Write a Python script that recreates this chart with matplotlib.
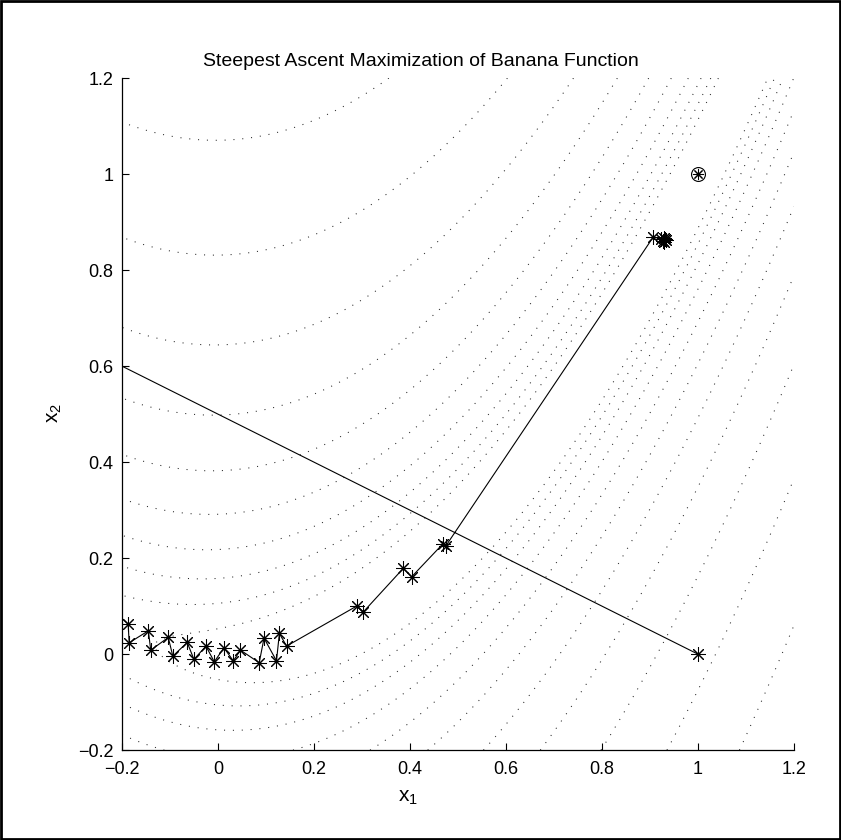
import numpy as np
import matplotlib
matplotlib.use("Agg")
import matplotlib.pyplot as plt
from matplotlib.patches import Rectangle

plt.rcParams['font.family'] = ['Liberation Sans', 'DejaVu Sans']
plt.rcParams['mathtext.fontset'] = 'custom'
plt.rcParams['mathtext.rm'] = 'Liberation Sans'
plt.rcParams['mathtext.it'] = 'Liberation Sans'

# contour levels of the banana function
levels = [-190.6, -115.6, -70.1, -42.5, -25.8, -15.6, -9.49, -5.75, -3.49, -2.12, -1.28]

# steepest ascent iterates (first step leaves the plot)
path_x1 = [1.0, -1.5, -0.187, -0.185, -0.145, -0.140, -0.1035, -0.094, -0.064, -0.050,
           -0.025, -0.0076, 0.0125, 0.032, 0.047, 0.086, 0.096, 0.122, 0.128, 0.143,
           0.289, 0.303, 0.386, 0.4035, 0.468, 0.475, 0.907,
           0.924, 0.927, 0.931, 0.929, 0.933, 0.930]
path_x2 = [0.0, 1.25, 0.0625, 0.0236, 0.0486, 0.0083, 0.0347, -0.0042, 0.0243, -0.011,
           0.0167, -0.016, 0.0132, -0.014, 0.0083, -0.018, 0.0333, -0.014, 0.043, 0.0167,
           0.100, 0.088, 0.1785, 0.161, 0.229, 0.2257, 0.869,
           0.865, 0.861, 0.864, 0.859, 0.862, 0.866]

opt_x1 = [1.0]
opt_x2 = [1.0]

x_ticks = [-0.2, 0, 0.2, 0.4, 0.6, 0.8, 1, 1.2]
x_ticklabels = ['\u22120.2', '0', '0.2', '0.4', '0.6', '0.8', '1', '1.2']
y_ticks = [-0.2, 0, 0.2, 0.4, 0.6, 0.8, 1, 1.2]
y_ticklabels = ['\u22120.2', '0', '0.2', '0.4', '0.6', '0.8', '1', '1.2']

fig = plt.figure(figsize=(8.41, 8.40), dpi=100)
ax = fig.add_axes([0.145, 0.107, 0.799, 0.800])

g1 = np.linspace(-0.2, 1.2, 300)
g2 = np.linspace(-0.2, 1.2, 300)
X1, X2 = np.meshgrid(g1, g2)
Z = -100 * (X2 - X1**2)**2 - (1 - X1)**2

ax.contour(X1, X2, Z, levels=levels, colors='0.15', linewidths=0.75,
           linestyles=[(0, (1, 7.5))], zorder=1)

star = (8, 2, 0)
ax.plot(path_x1, path_x2, color='k', lw=0.8, marker=star, ms=10.5, mew=0.75,
        mfc='none', mec='k', zorder=3)
ax.plot(opt_x1, opt_x2, linestyle='none', marker='o', ms=10, mfc='none', mec='k',
        mew=0.8, zorder=4)
ax.plot(opt_x1, opt_x2, linestyle='none', marker=star, ms=8, mec='k', mew=0.75, zorder=4)

ax.set_xlim(-0.2, 1.2)
ax.set_ylim(-0.2, 1.2)
ax.set_xticks(x_ticks)
ax.set_xticklabels(x_ticklabels)
ax.set_yticks(y_ticks)
ax.set_yticklabels(y_ticklabels)
ax.tick_params(direction='in', length=5, width=0.8, labelsize=13, pad=8)
ax.tick_params(axis='y', pad=6)
ax.spines['top'].set_visible(False)
ax.spines['right'].set_visible(False)
for s in ['left', 'bottom']:
    ax.spines[s].set_linewidth(0.9)

fig.text(421 / 841, 1 - 62 / 840, 'Steepest Ascent Maximization of Banana Function',
         fontsize=14, ha='center', va='center')
ax.set_xlabel(r'$\mathregular{x_1}$', fontsize=15)
ax.set_ylabel(r'$\mathregular{x_2}$', fontsize=15)
ax.xaxis.set_label_coords(0.4256, -0.057)
ax.yaxis.set_label_coords(-0.086, 0.5015)

fig.patches.append(Rectangle((0.0015, 0.0015), 0.997, 0.997, fill=False, lw=2.0,
                             edgecolor='k', transform=fig.transFigure, figure=fig))

fig.savefig('out.png', dpi=100)
